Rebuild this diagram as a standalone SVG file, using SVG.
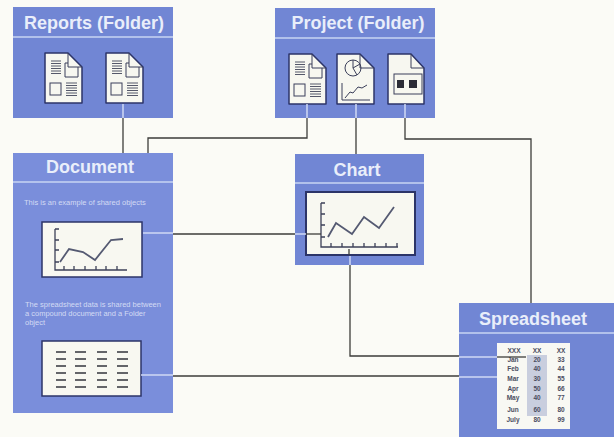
<svg xmlns="http://www.w3.org/2000/svg" xmlns:xlink="http://www.w3.org/1999/xlink" width="614" height="437" viewBox="0 0 614 437">
<style>
.panel{fill:#7186d4}
.sep{stroke:#c9d4f3;stroke-width:1.5;fill:none}
.title{font-family:"Liberation Sans",Arial,sans-serif;font-weight:700;font-size:18px;fill:#e9eefa;text-anchor:middle}
.note{font-family:"Liberation Sans",Arial,sans-serif;font-size:7.5px;fill:#d3dbf4}
.win{fill:#f8f8f1;stroke:#2c3468;stroke-width:1.5}
.page{fill:#f7f7f0;stroke:#2c3468;stroke-width:1.5;stroke-linejoin:round}
.ink{fill:none;stroke:#3b3f5a;stroke-width:1}
.lines{fill:none;stroke:#55586a;stroke-width:1}
.graph{fill:none;stroke:#3c4058;stroke-width:1.3}
.plot{fill:none;stroke:#555a72;stroke-width:1.8}
.dark{fill:none;stroke:#3d3d3a;stroke-width:1.3}
.light{fill:none;stroke:#cfd9f5;stroke-width:1.5}
.dash{stroke:#33343c;stroke-width:1.6}
.cell{font-family:"Liberation Sans",Arial,sans-serif;font-size:6.5px;font-weight:700;fill:#4a4d60;text-anchor:middle}
</style>
<defs>
<symbol id="docicon" overflow="visible">
<path class="page" d="M0 0H23L37 14V50H0Z"/>
<path class="ink" d="M23 0V14H37M20 10H23M20 10V24H33V14"/>
<path class="lines" d="M6 8H16M6 10.500H16M6 13H16M6 15.500H16M6 18H16M6 20.500H16"/>
<rect class="ink" x="5" y="30" width="11" height="12"/>
<path class="lines" d="M21 30H32M21 32.500H32M21 35H32M21 37.500H32M21 40H32M21 42.500H32"/>
</symbol>
</defs>
<rect width="614" height="437" fill="#fbfbf6"/>

<g id="reports">
<rect class="panel" x="13" y="7" width="160" height="111"/>
<path class="sep" d="M13 37H173"/>
<text class="title" x="94" y="29">Reports (Folder)</text>
<use xlink:href="#docicon" href="#docicon" x="45" y="53"/>
<use xlink:href="#docicon" href="#docicon" x="106" y="53"/>
</g>

<g id="project">
<rect class="panel" x="275" y="8" width="160" height="110"/>
<path class="sep" d="M275 38H435"/>
<text class="title" x="358" y="29">Project (Folder)</text>
<use xlink:href="#docicon" href="#docicon" x="289" y="54"/>
<g transform="translate(337 54)">
<path class="page" d="M0 0H23L37 14V50H0Z"/>
<path class="ink" d="M23 0V14H37"/>
<circle class="ink" cx="16" cy="14" r="8" fill="#f7f7f0"/>
<path class="ink" d="M16 6V14L23 10M16 14L20 21"/>
<path class="ink" d="M5 29V46H33M8 44L13 38L16 39L21 33L25 34L30 31"/>
</g>
<g transform="translate(388 54)">
<path class="page" d="M0 0H23L36 14V50H0Z"/>
<path class="ink" d="M23 0V14H36"/>
<rect class="ink" x="6" y="20" width="28" height="20" stroke-width="1.5"/>
<rect x="9" y="26" width="7" height="8" fill="#2b2c36"/>
<rect x="21" y="26" width="8" height="8" fill="#2b2c36"/>
</g>
</g>

<g id="document">
<rect class="panel" x="13" y="153" width="160" height="260" style="fill:#7a8edb"/>
<path class="sep" d="M13 182H173"/>
<text class="title" x="90" y="173">Document</text>
<text class="note" x="24" y="205">This is an example of shared objects</text>
<rect class="win" x="42" y="222" width="100" height="55"/>
<path class="graph" d="M55 229V270H127M55 229H59M55 240H59M55 250H59M55 262H59M64 270V266M74 270V266M85 270V266M96 270V266M106 270V266M117 270V266"/>
<path class="plot" d="M60 262L69 249L83 252L95 260L111 240L123 239"/>
<text class="note" x="25" y="307">The spreadsheet data is shared between</text>
<text class="note" x="25" y="316">a compound document and a Folder</text>
<text class="note" x="25" y="325">object</text>
<rect class="win" x="42" y="341" width="99" height="55"/>
<path class="dash" d="M56 352H66M75 352H86M97 352H107M117 352H128M56 359H66M75 359H86M97 359H107M117 359H128M56 366H66M75 366H86M97 366H107M117 366H128M56 373H66M75 373H86M97 373H107M117 373H128M56 380H66M75 380H86M97 380H107M117 380H128M56 387H66M75 387H86M97 387H107M117 387H128"/>
</g>

<g id="chart">
<rect class="panel" x="295" y="154" width="129" height="111"/>
<path class="sep" d="M295 183H424"/>
<text class="title" x="357" y="176">Chart</text>
<rect class="win" x="306" y="192" width="109" height="63" style="stroke-width:2"/>
<path class="graph" d="M321 203V247H398M321 203H325M321 214H325M321 225H325M321 237H325M331 247V243M342 247V243M353 247V243M364 247V243M375 247V243M386 247V243M397 247V243"/>
<path class="plot" d="M328 237L336 223L352 234L364 217L379 228L394 207"/>
</g>

<g id="spreadsheet">
<rect class="panel" x="459" y="303" width="155" height="134"/>
<path class="sep" d="M459 333H614"/>
<text class="title" x="533" y="325">Spreadsheet</text>
<rect x="497" y="343" width="73" height="86" fill="#f8f8f3"/>
<rect x="527" y="355" width="20" height="61" fill="#c9cede"/>
<g class="cell">
<text x="514" y="353">XXX</text><text x="537" y="353">XX</text><text x="561" y="353">XX</text>
<text x="513" y="362">Jan</text><text x="537" y="362">20</text><text x="561" y="362">33</text>
<text x="513" y="371">Feb</text><text x="537" y="371">40</text><text x="561" y="371">44</text>
<text x="513" y="381">Mar</text><text x="537" y="381">30</text><text x="561" y="381">55</text>
<text x="513" y="391">Apr</text><text x="537" y="391">50</text><text x="561" y="391">66</text>
<text x="513" y="400">May</text><text x="537" y="400">40</text><text x="561" y="400">77</text>
<text x="513" y="412">Jun</text><text x="537" y="412">60</text><text x="561" y="412">80</text>
<text x="513" y="422">July</text><text x="537" y="422">80</text><text x="561" y="422">99</text>
</g>
</g>

<g id="connectors">
<path class="dark" d="M123 118V153"/>
<path class="light" d="M123 104V118"/>
<path class="dark" d="M148 153V138H307V118"/>
<path class="light" d="M307 104V118"/>
<path class="dark" d="M356 118V154"/>
<path class="light" d="M356 104V118"/>
<path class="dark" d="M405 118V139H531V303"/>
<path class="light" d="M405 104V118"/>
<path class="dark" d="M173 234H295"/>
<path class="light" d="M143 233H173M295 234H306"/>
<path class="dark" d="M306 234H321"/>
<path class="dark" d="M350 265V356H459"/>
<path class="light" d="M350 256V265M459 357H497"/>
<path class="dark" d="M497 357H526"/>
<path class="dark" d="M173 376H459"/>
<path class="light" d="M141 375H173M459 377H497"/>
<path class="dark" d="M349 249V255"/>
</g>
</svg>
